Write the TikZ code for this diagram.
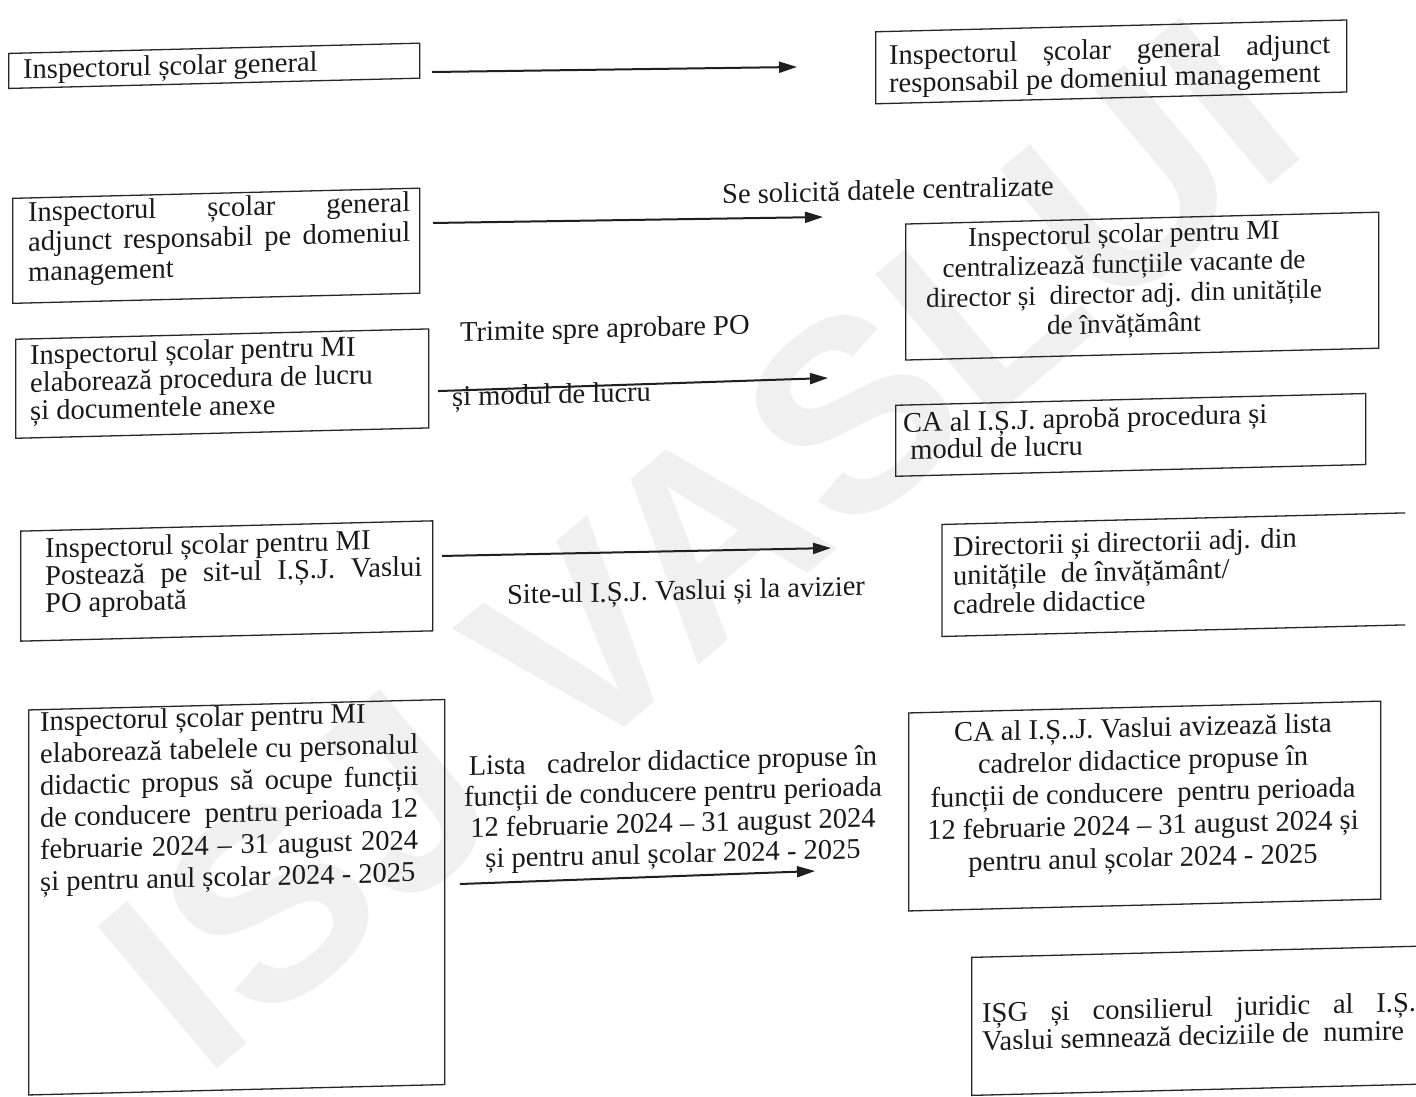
\documentclass[tikz,border=0pt]{standalone}
\usepackage{fontspec}
\setmainfont{Liberation Serif}
\newfontfamily\wmfont{Liberation Sans}
\usetikzlibrary{arrows.meta}
\hbadness=10000
\newcommand\lnJ[1]{\hbox to\hsize{#1}}
\newcommand\lnL[1]{\hbox to\hsize{#1\hfil}}
\newcommand\lnC[1]{\hbox to\hsize{\hfil#1\hfil}}
\newcommand\tbox[3]{\vtop{\hsize=#1pt\baselineskip=#2pt\lineskiplimit=-50pt\lineskip=0pt #3}}
\tikzset{
  boxst/.style={draw=black!85, line width=1.3pt, inner sep=0pt, anchor=north west, transform shape},
  boxline/.style={draw=black!85, line width=1.3pt},
  txt/.style={inner sep=0pt, anchor=base west, text=black!90, font=\fontsize{28.5}{33}\selectfont, transform shape},
  arr/.style={line width=2pt, draw=black!88, -{Triangle[length=18pt,width=11pt]}},
  wm/.style={inner sep=0pt, text=black!6, font=\wmfont\bfseries\fontsize{270}{270}\selectfont}
}
\begin{document}
\begin{tikzpicture}[x=1pt,y=-1pt]
\useasboundingbox (0,0) rectangle (1416,1096);
\clip (0,0) rectangle (1416,1096);
\fill[white] (0,0) rectangle (1416,1096);
% watermark
\node[wm, rotate=40, anchor=base west] (wm) at (203,1081) {ISJ VASLUI};
\begin{scope}[yslant=0.025]
% row 1
\node[boxst, minimum width=411pt, minimum height=35pt] (A1) at (8,53) {};
\node[txt] (A1t) at (23,79.3) {Inspectorul școlar general};
\node[boxst, minimum width=471pt, minimum height=72pt] (B1) at (875,53) {};
\node[txt] (B1t) at (889,87) {\tbox{441}{28}{\lnJ{Inspectorul școlar general adjunct}\lnL{responsabil pe domeniul management}}};
\coordinate (a1s) at (432,82.8);
\coordinate (a1e) at (797,86.9);
\draw[arr] (a1s) -- (a1e);
% row 2
\node[boxst, minimum width=407pt, minimum height=105pt] (A2) at (12,198) {};
\node[txt] (A2t) at (28,222) {\tbox{382}{30}{\lnJ{Inspectorul școlar general}\lnJ{adjunct responsabil pe domeniul}\lnL{management}}};
\coordinate (a2s) at (433,233.8);
\coordinate (a2e) at (823,237.6);
\draw[arr] (a2s) -- (a2e);
\node[txt, anchor=base] (l2) at (888,222) {Se solicită datele centralizate};
\node[boxst, minimum width=473pt, minimum height=136pt] (B2) at (905,246) {};
\node[txt, anchor=base, font=\fontsize{27.3}{30}\selectfont] (B2t) at (1124,271) {\tbox{460}{30}{\lnC{Inspectorul școlar pentru MI}\lnC{centralizează funcțiile vacante de}\lnC{director și\ \ director adj. din unitățile}\lnC{de învățământ}}};
% row 3
\node[boxst, minimum width=413pt, minimum height=99pt] (A3) at (15,339) {};
\node[txt] (A3t) at (30,365) {\tbox{390}{28}{\lnL{Inspectorul școlar pentru MI}\lnL{elaborează procedura de lucru}\lnL{și documentele anexe}}};
\coordinate (a3s) at (438,402);
\coordinate (a3e) at (828,398.7);
\draw[arr] (a3s) -- (a3e);
\node[txt] (l3a) at (460,353) {Trimite spre aprobare PO};
\node[txt] (l3b) at (452,417.5) {și modul de lucru};
\node[boxst, minimum width=470pt, minimum height=71pt] (B3) at (895,427) {};
\node[txt] (B3t) at (903,455) {\tbox{455}{27}{\lnL{CA al I.Ș.J. aprobă procedura și}\lnL{\ modul de lucru}}};
% row 4
\node[boxst, minimum width=412pt, minimum height=110pt] (A4) at (20,531) {};
\node[txt] (A4t) at (45,559) {\tbox{377}{27.5}{\lnL{Inspectorul școlar pentru MI}\lnJ{Postează pe sit-ul I.Ș.J. Vaslui}\lnL{PO aprobată}}};
\coordinate (a4s) at (442,567);
\coordinate (a4e) at (831,568.8);
\draw[arr] (a4s) -- (a4e);
\node[txt, anchor=base] (l4) at (686,617) {Site-ul I.Ș.J. Vaslui și la avizier};
\draw[boxline] (1405,548) -- (942,548) -- (942,660) -- (1405,660);
\node[txt] (B4t) at (953,580) {\tbox{440}{29}{\lnL{Directorii și directorii adj. din}\lnL{unitățile\ \ de învățământ/}\lnL{cadrele didactice}}};
% row 5
\node[boxst, minimum width=416pt, minimum height=385pt] (A5) at (28,710) {};
\node[txt] (A5t) at (40,732) {\tbox{378}{32}{\lnL{Inspectorul școlar pentru MI}\lnJ{elaborează tabelele cu personalul}\lnJ{didactic propus să ocupe funcții}\lnJ{de conducere\ \ pentru perioada 12}\lnJ{februarie 2024 – 31 august 2024}\lnL{și pentru anul școlar 2024 - 2025}}};
\coordinate (a5s) at (460,895.5);
\coordinate (a5e) at (815,891.4);
\draw[arr] (a5s) -- (a5e);
\node[txt, anchor=base] (l5) at (673,787) {\tbox{440}{31}{\lnC{Lista\ \ \ cadrelor didactice propuse în}\lnC{funcții de conducere pentru perioada}\lnC{12 februarie 2024 – 31 august 2024}\lnC{și pentru anul școlar 2024 - 2025}}};
\node[boxst, minimum width=472pt, minimum height=198pt] (B5) at (908,735) {};
\node[txt, anchor=base] (B5t) at (1143,765.6) {\tbox{460}{32.5}{\lnC{CA al I.Ș..J. Vaslui avizează lista}\lnC{cadrelor didactice propuse în}\lnC{funcții de conducere\ \ pentru perioada}\lnC{12 februarie 2024 – 31 august 2024 și}\lnC{pentru anul școlar 2024 - 2025}}};
% row 6
\node[boxst, minimum width=480pt, minimum height=138pt] (B6) at (971,981) {};
\node[txt] (B6t) at (982,1047) {\tbox{452}{28}{\lnJ{IȘG și consilierul juridic al I.Ș.J.}\lnL{Vaslui semnează deciziile de\ \ numire}}};
\end{scope}
\end{tikzpicture}
\end{document}
